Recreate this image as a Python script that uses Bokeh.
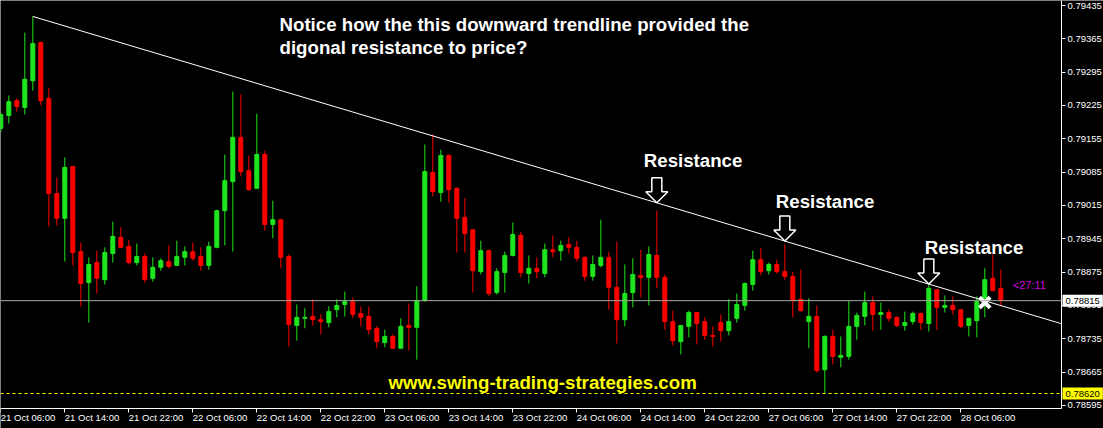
from bokeh.plotting import figure
from bokeh.models import (ColumnDataSource, FixedTicker, PrintfTickFormatter,
                          Span, Label, Range1d, LinearAxis)
from bokeh.embed import file_html
from bokeh.resources import INLINE

# ---------------- data (H1 candles, 21 Oct 06:00 -> 28 Oct 11:00) ----------------
opens = [0.79177, 0.79204, 0.79235, 0.79221, 0.79277, 0.79357, 0.79240, 0.79040, 0.78988, 0.79097,
         0.78918, 0.78853, 0.78895, 0.78859, 0.78914, 0.78948, 0.78929, 0.78895, 0.78908, 0.78862,
         0.78885, 0.78897, 0.78889, 0.78906, 0.78918, 0.78908, 0.78889, 0.78927, 0.79004, 0.79065,
         0.79158, 0.79088, 0.79051, 0.79122, 0.78975, 0.78985, 0.78908, 0.78763, 0.78778, 0.78782,
         0.78775, 0.78769, 0.78796, 0.78807, 0.78813, 0.78788, 0.78782, 0.78757, 0.78727, 0.78740,
         0.78715, 0.78763, 0.78759, 0.78815, 0.79084, 0.79042, 0.79120, 0.79051, 0.78990, 0.78964,
         0.78876, 0.78920, 0.78832, 0.78874, 0.78910, 0.78952, 0.78872, 0.78883, 0.78872, 0.78922,
         0.78920, 0.78933, 0.78927, 0.78906, 0.78866, 0.78889, 0.78906, 0.78843, 0.78775, 0.78832,
         0.78868, 0.78864, 0.78910, 0.78864, 0.78771, 0.78729, 0.78761, 0.78790, 0.78771, 0.78742,
         0.78769, 0.78752, 0.78778, 0.78805, 0.78849, 0.78901, 0.78878, 0.78891, 0.78876, 0.78866,
         0.78818, 0.78771, 0.78782, 0.78670, 0.78740, 0.78696, 0.78698, 0.78761, 0.78782, 0.78811,
         0.78786, 0.78790, 0.78780, 0.78763, 0.78771, 0.78788, 0.78767, 0.78838, 0.78801, 0.78805,
         0.78796, 0.78763, 0.78773, 0.78820, 0.78862, 0.78841]
highs = [0.79210, 0.79246, 0.79240, 0.79378, 0.79412, 0.79359, 0.79261, 0.79074, 0.79116, 0.79097,
         0.78937, 0.78906, 0.78920, 0.78927, 0.78981, 0.78969, 0.78943, 0.78935, 0.78914, 0.78906,
         0.78904, 0.78931, 0.78941, 0.78929, 0.78937, 0.78927, 0.78939, 0.79006, 0.79122, 0.79254,
         0.79248, 0.79120, 0.79208, 0.79130, 0.79025, 0.78985, 0.78912, 0.78807, 0.78799, 0.78818,
         0.78786, 0.78803, 0.78818, 0.78834, 0.78822, 0.78803, 0.78803, 0.78761, 0.78754, 0.78744,
         0.78778, 0.78809, 0.78845, 0.79143, 0.79164, 0.79132, 0.79122, 0.79053, 0.79030, 0.78964,
         0.78941, 0.78922, 0.78883, 0.78918, 0.78979, 0.78960, 0.78910, 0.78906, 0.78935, 0.78952,
         0.78941, 0.78948, 0.78941, 0.78908, 0.78910, 0.78985, 0.78918, 0.78939, 0.78891, 0.78904,
         0.78922, 0.78929, 0.79004, 0.78870, 0.78794, 0.78763, 0.78794, 0.78790, 0.78780, 0.78761,
         0.78786, 0.78818, 0.78830, 0.78853, 0.78920, 0.78925, 0.78895, 0.78901, 0.78933, 0.78876,
         0.78880, 0.78820, 0.78805, 0.78742, 0.78754, 0.78740, 0.78815, 0.78790, 0.78834, 0.78824,
         0.78811, 0.78796, 0.78782, 0.78792, 0.78792, 0.78790, 0.78849, 0.78838, 0.78826, 0.78824,
         0.78796, 0.78778, 0.78824, 0.78883, 0.78912, 0.78880]
lows = [0.79168, 0.79187, 0.79212, 0.79206, 0.79256, 0.79225, 0.78971, 0.78973, 0.78897, 0.78889,
        0.78803, 0.78769, 0.78830, 0.78849, 0.78895, 0.78927, 0.78891, 0.78889, 0.78853, 0.78855,
        0.78878, 0.78883, 0.78889, 0.78889, 0.78899, 0.78878, 0.78880, 0.78925, 0.78931, 0.78918,
        0.79076, 0.79046, 0.79051, 0.78962, 0.78946, 0.78883, 0.78719, 0.78731, 0.78757, 0.78763,
        0.78744, 0.78759, 0.78780, 0.78782, 0.78778, 0.78761, 0.78744, 0.78715, 0.78717, 0.78715,
        0.78715, 0.78710, 0.78691, 0.78813, 0.79034, 0.79023, 0.79021, 0.78916, 0.78916, 0.78832,
        0.78870, 0.78824, 0.78828, 0.78832, 0.78908, 0.78864, 0.78851, 0.78862, 0.78864, 0.78906,
        0.78899, 0.78914, 0.78897, 0.78857, 0.78857, 0.78885, 0.78796, 0.78725, 0.78761, 0.78801,
        0.78822, 0.78805, 0.78841, 0.78754, 0.78721, 0.78702, 0.78738, 0.78723, 0.78733, 0.78719,
        0.78729, 0.78742, 0.78769, 0.78794, 0.78836, 0.78868, 0.78870, 0.78872, 0.78859, 0.78780,
        0.78792, 0.78715, 0.78664, 0.78620, 0.78681, 0.78675, 0.78691, 0.78733, 0.78763, 0.78752,
        0.78754, 0.78771, 0.78759, 0.78752, 0.78765, 0.78754, 0.78750, 0.78754, 0.78790, 0.78786,
        0.78757, 0.78740, 0.78738, 0.78780, 0.78836, 0.78803]
closes = [0.79206, 0.79233, 0.79223, 0.79280, 0.79355, 0.79235, 0.79040, 0.78988, 0.79095, 0.78916,
          0.78851, 0.78891, 0.78862, 0.78916, 0.78950, 0.78927, 0.78895, 0.78908, 0.78859, 0.78885,
          0.78899, 0.78887, 0.78908, 0.78918, 0.78904, 0.78889, 0.78929, 0.79004, 0.79067, 0.79158,
          0.79086, 0.79048, 0.79122, 0.78975, 0.78985, 0.78906, 0.78765, 0.78780, 0.78780, 0.78775,
          0.78771, 0.78792, 0.78805, 0.78813, 0.78786, 0.78780, 0.78754, 0.78729, 0.78740, 0.78715,
          0.78761, 0.78759, 0.78815, 0.79086, 0.79044, 0.79120, 0.79048, 0.78988, 0.78956, 0.78878,
          0.78920, 0.78830, 0.78876, 0.78910, 0.78954, 0.78874, 0.78883, 0.78876, 0.78922, 0.78918,
          0.78931, 0.78927, 0.78904, 0.78866, 0.78891, 0.78906, 0.78843, 0.78775, 0.78830, 0.78870,
          0.78864, 0.78912, 0.78864, 0.78771, 0.78731, 0.78763, 0.78790, 0.78767, 0.78742, 0.78740,
          0.78752, 0.78771, 0.78807, 0.78851, 0.78901, 0.78876, 0.78891, 0.78876, 0.78866, 0.78815,
          0.78794, 0.78782, 0.78668, 0.78740, 0.78698, 0.78700, 0.78761, 0.78784, 0.78811, 0.78786,
          0.78790, 0.78778, 0.78763, 0.78769, 0.78788, 0.78769, 0.78841, 0.78801, 0.78805, 0.78796,
          0.78761, 0.78778, 0.78813, 0.78859, 0.78836, 0.78815]

x_tick_bars = [0, 8, 16, 24, 32, 40, 48, 56, 64, 72, 80, 88, 96, 104, 112, 120]
x_tick_labels = ["21 Oct 06:00", "21 Oct 14:00", "21 Oct 22:00", "22 Oct 06:00",
                 "22 Oct 14:00", "22 Oct 22:00", "23 Oct 06:00", "23 Oct 14:00",
                 "23 Oct 22:00", "24 Oct 06:00", "24 Oct 14:00", "24 Oct 22:00",
                 "27 Oct 06:00", "27 Oct 14:00", "27 Oct 22:00", "28 Oct 06:00"]
y_ticks = [0.79435, 0.79365, 0.79295, 0.79225, 0.79155, 0.79085, 0.79015,
           0.78945, 0.78875, 0.78805, 0.78735, 0.78665, 0.78595]

bid_price = 0.78815
low_price = 0.78620
trend_bars = [4, 132.5]
trend_prices = [0.79412, 0.78767]
resist_bars = [82, 98, 116]
cross_bar = 123
cross_price = 0.78811
title_lines = ["Notice how the this downward trendline provided the",
               "digonal resistance to price?"]
site_text = "www.swing-trading-strategies.com"
timer_text = "<27:11"

# ---------------- layout ----------------
W, H = 1103, 428
PX_PER_BAR = 8.0
PRICE_PER_PX = 0.000021005
X0 = -0.04
X1 = X0 + W / PX_PER_BAR
Y1 = 0.794455
Y0 = Y1 - H * PRICE_PER_PX
AXIS_X = X0 + 1061 / PX_PER_BAR          # vertical price axis position
AXIS_Y = Y1 - 408 * PRICE_PER_PX         # horizontal time axis position

GREEN = "#1ee61e"
RED = "#ff0000"
FONT = "Liberation Sans"
BIG = "14pt"
LIFT = 6   # px: raise the annotation texts

p = figure(width=W, height=H, x_range=Range1d(X0, X1), y_range=Range1d(Y0, Y1),
           x_axis_location=None, y_axis_location=None,
           output_backend="svg", toolbar_location=None,
           background_fill_color="black", border_fill_color="black", min_border=0)
p.title.visible = False
p.outline_line_color = None
p.grid.visible = False

# axes drawn at fixed positions
yaxis = LinearAxis(fixed_location=AXIS_X, bounds=(AXIS_Y, Y1),
                   ticker=FixedTicker(ticks=y_ticks),
                   formatter=PrintfTickFormatter(format="%.5f"))
xaxis = LinearAxis(fixed_location=AXIS_Y, bounds=(X0, AXIS_X),
                   ticker=FixedTicker(ticks=x_tick_bars),
                   major_label_overrides={b: l for b, l in zip(x_tick_bars, x_tick_labels)})
for ax in (xaxis, yaxis):
    ax.axis_line_color = "white"
    ax.major_tick_line_color = "white"
    ax.major_tick_out = 4
    ax.major_tick_in = 0
    ax.minor_tick_line_color = None
    ax.major_label_text_color = "white"
    ax.major_label_text_font = FONT
    ax.major_label_standoff = 2
yaxis.major_label_text_font_size = "9.5px"
xaxis.major_label_text_font_size = "9.5px"
xaxis.major_label_orientation = -1e-9
xaxis.major_label_standoff = 5
p.add_layout(yaxis, "right")
p.add_layout(xaxis, "below")

# horizontal levels
p.add_layout(Span(location=bid_price, dimension="width", line_color="#a8a8a8", line_width=1))
p.add_layout(Span(location=low_price, dimension="width", line_color="#ffff00",
                  line_width=1, line_dash="3 3"))

# candles
colors = [GREEN if c >= o else RED for o, c in zip(opens, closes)]
src = ColumnDataSource(dict(
    x=list(range(len(opens))),
    top=[max(o, c) for o, c in zip(opens, closes)],
    bottom=[min(o, c) for o, c in zip(opens, closes)],
    high=highs, low=lows, color=colors))
p.segment(x0="x", y0="low", x1="x", y1="high", color="color", line_width=1, source=src)
p.vbar(x="x", width=0.5, top="top", bottom="bottom", fill_color="color",
       line_color="color", line_width=1, source=src)

# trendline
p.line(trend_bars, trend_prices, line_color="white", line_width=1)

# hollow arrows pointing to the trendline touches
def trend_at(b):
    return trend_prices[0] + (b - trend_bars[0]) * (trend_prices[1] - trend_prices[0]) / (trend_bars[1] - trend_bars[0])

shape = [(-5, 25), (5, 25), (5, 11), (11, 11), (0, 0), (-11, 11), (-5, 11)]
xs, ys = [], []
for b in resist_bars:
    tip = trend_at(b)
    xs.append([b + dx / PX_PER_BAR for dx, dy in shape])
    ys.append([tip + dy * PRICE_PER_PX for dx, dy in shape])
p.patches(xs, ys, fill_color="black", line_color="white", line_width=1.5)

label_offsets = [(-13, 36), (-9, 34), (-4, 31)]
for b, (ox, oy) in zip(resist_bars, label_offsets):
    p.add_layout(Label(x=b, y=trend_at(b), x_offset=ox, y_offset=oy + LIFT, text="Resistance",
                       text_color="white", text_font=FONT, text_font_style="bold",
                       text_font_size=BIG, text_baseline="alphabetic"))

# breakout cross
p.scatter([cross_bar], [cross_price], marker="x", size=15, line_width=4, line_color="white")

# texts
p.add_layout(Label(x=34.84, y=0.79383, y_offset=LIFT, text=title_lines[0], text_color="white",
                   text_font=FONT, text_font_style="bold", text_font_size=BIG,
                   text_baseline="alphabetic"))
p.add_layout(Label(x=34.84, y=0.79334, y_offset=LIFT, text=title_lines[1], text_color="white",
                   text_font=FONT, text_font_style="bold", text_font_size=BIG,
                   text_baseline="alphabetic"))
p.add_layout(Label(x=48.46, y=0.78630, y_offset=LIFT, text=site_text, text_color="#ffff00",
                   text_font=FONT, text_font_style="bold", text_font_size=BIG,
                   text_baseline="alphabetic"))
p.add_layout(Label(x=126.5, y=0.78838, y_offset=5, text=timer_text, text_color="#d000e0",
                   text_font=FONT, text_font_size="11px", text_baseline="alphabetic"))

# price boxes on the axis
p.add_layout(Label(x=AXIS_X, y=bid_price, x_offset=1, text=f"{bid_price:.5f}", text_color="black",
                   text_font=FONT, text_font_size="9.5px", text_baseline="middle",
                   background_fill_color="white", padding=3))
p.add_layout(Label(x=AXIS_X, y=low_price, x_offset=1, text=f"{low_price:.5f}", text_color="black",
                   text_font=FONT, text_font_size="9.5px", text_baseline="middle",
                   background_fill_color="#ffff00", padding=3))

open("out.html", "w").write(file_html(p, INLINE))
